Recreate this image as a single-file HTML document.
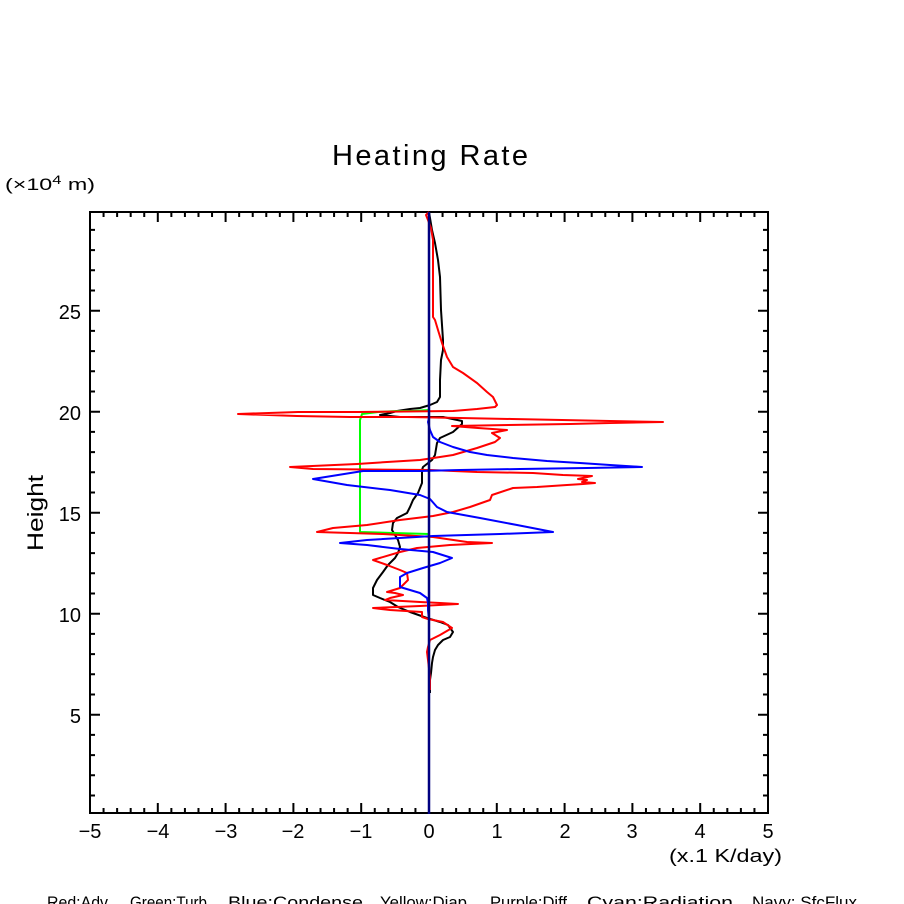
<!DOCTYPE html>
<html><head><meta charset="utf-8"><style>
html,body{margin:0;padding:0;background:#fff;}
svg{display:block;}
text{font-family:"Liberation Sans",sans-serif;fill:#000;}
</style></head><body>
<svg width="904" height="904" viewBox="0 0 904 904" xmlns="http://www.w3.org/2000/svg">
<rect width="904" height="904" fill="#fff"/>
<text x="332" y="165" font-size="29" textLength="196" lengthAdjust="spacing">Heating Rate</text>
<text x="5" y="190" font-size="17" textLength="90" lengthAdjust="spacingAndGlyphs">(×10<tspan font-size="12" dy="-6">4</tspan><tspan dy="6"> m)</tspan></text>
<text x="0" y="0" font-size="22" transform="translate(43,551) rotate(-90)" textLength="76" lengthAdjust="spacingAndGlyphs">Height</text>
<g id="ticks" stroke="#000" stroke-width="2" fill="none"></g>
<rect x="90" y="212" width="678" height="601" fill="none" stroke="#000" stroke-width="2"/>
<g font-size="20" text-anchor="end">
<text x="81" y="319">25</text>
<text x="81" y="420">20</text>
<text x="81" y="521">15</text>
<text x="81" y="622">10</text>
<text x="81" y="723">5</text>
</g>
<g font-size="20" text-anchor="middle">
<text x="90" y="838">−5</text>
<text x="158" y="838">−4</text>
<text x="226" y="838">−3</text>
<text x="293" y="838">−2</text>
<text x="361" y="838">−1</text>
<text x="429" y="838">0</text>
<text x="497" y="838">1</text>
<text x="565" y="838">2</text>
<text x="632" y="838">3</text>
<text x="700" y="838">4</text>
<text x="768" y="838">5</text>
</g>
<text x="669" y="862" font-size="18" textLength="113" lengthAdjust="spacingAndGlyphs">(x.1 K/day)</text>
<g font-size="17">
<text x="47" y="908" textLength="61" lengthAdjust="spacingAndGlyphs">Red:Adv</text>
<text x="130" y="908" textLength="77" lengthAdjust="spacingAndGlyphs">Green:Turb</text>
<text x="228" y="908" textLength="135" lengthAdjust="spacingAndGlyphs">Blue:Condense</text>
<text x="380" y="908" textLength="87" lengthAdjust="spacingAndGlyphs">Yellow:Diap</text>
<text x="490" y="908" textLength="77" lengthAdjust="spacingAndGlyphs">Purple:Diff</text>
<text x="587" y="908" textLength="146" lengthAdjust="spacingAndGlyphs">Cyan:Radiation</text>
<text x="752" y="908" textLength="105" lengthAdjust="spacingAndGlyphs">Navy: SfcFlux</text>
</g>
<g fill="none" stroke-width="2" stroke-linejoin="round">
<polyline stroke="#000" points="429,212 432,230 435,243 438,260 440,277 441,310 443,340 443,350 441,360 440,380 440,397 437,402 430,405 420,408 410,409 397,411 390,413 380,415 400,417 443,417 462,421 462,424 453,432 440,438 437,443 435,455 432,460 423,467 422,470 422,483 418,493 413,500 410,507 407,513 397,518 393,523 392,530 395,535 398,540 400,547 398,553 395,558 388,565 383,572 377,580 373,588 373,595 380,598 390,602 398,607 410,612 427,618 440,622 448,625 453,632 450,637 443,640 438,645 435,650 433,657 432,663 431,673 430,680 430,693"/>
<polyline stroke="#00ff00" points="429,410 413,411 397,411 378,412 362,414 360,420 360,532 393,533 429,534"/>
<polyline stroke="#ff0000" points="429,212 426,215 428,220 431,228 433,240 433,317 435,320 438,330 442,343 447,357 453,367 463,373 477,383 487,392 493,397 497,405 495,407 477,409 453,411 358,412 298,412 238,414 297,416 350,417 407,417 460,418 512,419 562,420 610,421 663,422 610,423 570,424 452,426 465,427 478,428 507,430 492,433 500,438 495,442 477,448 453,455 440,457 420,460 387,462 357,464 290,467 313,469 430,470 477,472 533,473 563,475 592,476 578,479 587,480 582,482 595,483 583,484 567,485 537,487 513,488 492,495 490,500 470,507 453,512 433,516 400,520 367,525 333,528 317,532 350,533 383,534 433,537 467,542 492,543 450,545 417,548 400,552 373,560 387,565 400,570 407,573 408,580 405,583 400,588 387,592 395,593 403,595 390,598 385,600 420,602 440,603 458,604 420,606 373,608 390,610 422,612 422,617 428,619 443,622 452,628 440,635 430,640 428,647 427,652 428,660 430,677 430,690"/>
<polyline stroke="#0000ff" points="429,418 428,422 430,430 433,437 440,442 453,447 470,452 487,455 513,458 547,461 580,463 610,465 642,467 587,468 520,469 460,470 420,471 363,471 313,479 347,485 390,490 420,495 430,499 437,507 447,512 480,518 517,525 553,532 500,534 433,536 367,540 340,543 367,545 400,549 433,552 452,558 440,563 423,568 407,573 400,577 400,587 410,590 420,593 427,598 428,603 428,610 429,620"/>
<line x1="429" y1="212" x2="429" y2="814" stroke="#000080" stroke-width="2.5"/>
</g>
<script>
(function(){
var g=document.getElementById('ticks');var ns='http://www.w3.org/2000/svg';var d='';
for(var i=0;i<=50;i++){var x=90+678*i/50;var L=(i%5==0)?10:5;
d+='M'+x+' 813V'+(813-L)+'M'+x+' 212V'+(212+L);}
for(var v=1;v<=29;v++){var y=815.7-20.2*v;var L=(v%5==0)?10:5;
d+='M90 '+y+'H'+(90+L)+'M768 '+y+'H'+(768-L);}
var p=document.createElementNS(ns,'path');p.setAttribute('d',d);g.appendChild(p);
})();
</script>
</svg>
</body></html>
